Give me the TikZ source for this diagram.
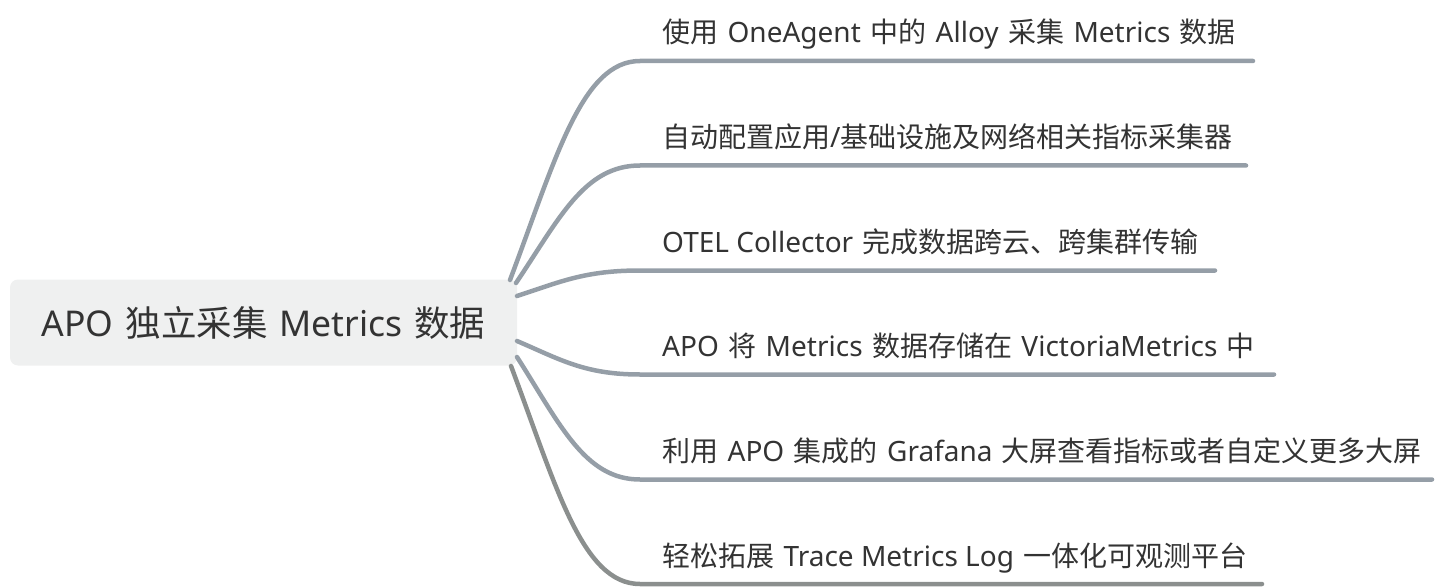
\documentclass[tikz,border=0pt]{standalone}
\usepackage{fontspec}
\setmainfont[WordSpace=1.5]{Noto Sans CJK SC}
\newfontfamily\latinf{Noto Sans}
\newcommand{\latn}[1]{{\latinf #1}}
\definecolor{txt}{HTML}{333333}
\definecolor{boxfill}{HTML}{EFF0F0}
\definecolor{br}{HTML}{959EA7}
\definecolor{brlast}{HTML}{8B8F8E}
\tikzset{
  rootbox/.style={fill=boxfill, rounded corners=8pt, minimum width=507pt, minimum height=86pt, inner sep=0pt, text=txt, font=\fontsize{35.5}{38}\selectfont},
  leaf/.style={anchor=base west, inner sep=0pt, text=txt, font=\fontsize{28}{30}\selectfont},
  branch/.style={draw=br, line width=4.5pt, line cap=round},
}
\begin{document}
\begin{tikzpicture}[x=1pt,y=-1pt]
\useasboundingbox (0,0) rectangle (1442,588);
\node[rootbox] (root) at (263.5,322.5) {\latn{APO} 独立采集 \latn{Metrics} 数据};
% start points on root
\coordinate (s1) at (510,280);
\coordinate (s2) at (516,283);
\coordinate (s3) at (517,296);
\coordinate (s4) at (517,341);
\coordinate (s5) at (517,357);
\coordinate (s6) at (511,366);
% line starts / ends
\foreach \i/\y/\xe in {1/61/1253, 2/165.5/1246, 3/270.5/1215, 4/374.5/1274, 5/479.5/1432, 6/584/1262}{
  \coordinate (e\i) at (640,\y);
  \coordinate (f\i) at (\xe,\y);
}
\node[leaf] (t1) at (662,43) {使用 \latn{OneAgent} 中的 \latn{Alloy} 采集 \latn{Metrics} 数据};
\node[leaf] (t2) at (662,147.5) {自动配置应用\latn{/}基础设施及网络相关指标采集器};
\node[leaf] (t3) at (662,252.5) {\latn{OTEL Collector} 完成数据跨云、跨集群传输};
\node[leaf] (t4) at (662,356.5) {\latn{APO} 将 \latn{Metrics} 数据存储在 \latn{VictoriaMetrics} 中};
\node[leaf] (t5) at (662,461.5) {利用 \latn{APO} 集成的 \latn{Grafana} 大屏查看指标或者自定义更多大屏};
\node[leaf] (t6) at (662,566) {轻松拓展 \latn{Trace Metrics Log} 一体化可观测平台};
% branches
\foreach \i/\sx/\sy/\ey/\c in {1/510/280/61/br, 2/516/283/165.5/br, 3/517/296/270.5/br, 4/517/341/374.5/br, 5/517/357/479.5/br, 6/511/366/584/brlast}{
  \draw[branch, draw=\c] (s\i) .. controls ({\sx+0.35*(640-\sx)},{\sy+0.55*(\ey-\sy)}) and ({\sx+0.55*(640-\sx)},\ey) .. (e\i) -- (f\i);
}
\end{tikzpicture}
\end{document}
